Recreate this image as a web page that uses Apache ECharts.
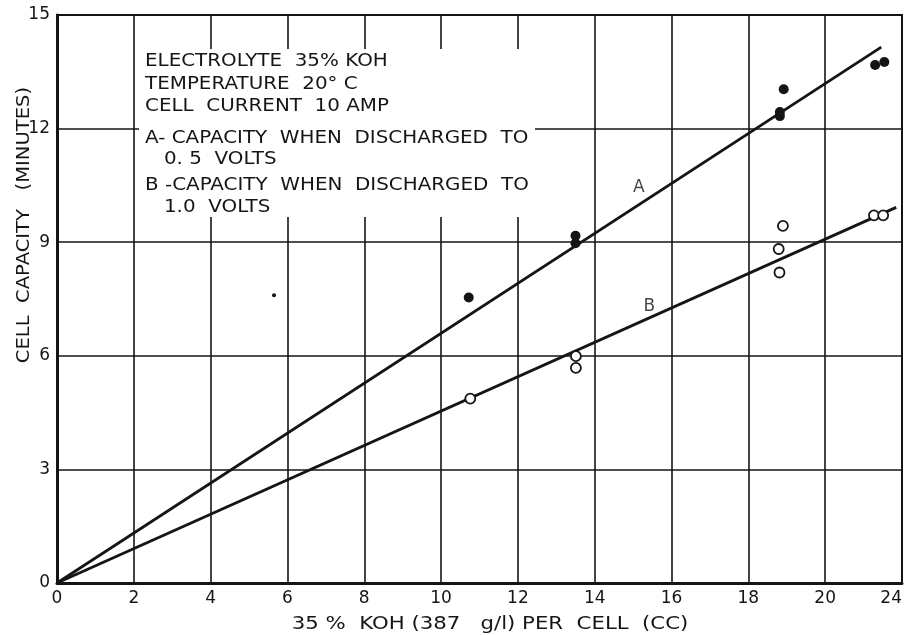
<!DOCTYPE html>
<html>
<head>
<meta charset="utf-8">
<script src="https://cdn.jsdelivr.net/npm/echarts@6/dist/echarts.min.js"></script>
<style>html,body{margin:0;padding:0;background:#fff;}#c{width:908px;height:635px;}</style>
</head>
<body>
<div id="c"></div>
<script>
// x ticks as drawn on the grid (the right edge of the grid is labelled "24")
const xTickValues = [0, 2, 4, 6, 8, 10, 12, 14, 16, 18, 20, 22];
const xTickLabels = ['0', '2', '4', '6', '8', '10', '12', '14', '16', '18', '20', '24'];
const yTickLabels = ['0', '3', '6', '9', '12', '15'];

// A - capacity when discharged to 0.5 volts (filled points)
const pointsA = [[10.72, 7.54], [13.5, 9.17], [13.5, 8.97], [18.92, 13.04], [18.82, 12.44], [18.82, 12.33], [21.3, 13.68], [21.54, 13.76]];
// B - capacity when discharged to 1.0 volts (open points)
const pointsB = [[10.76, 4.87], [13.51, 5.99], [13.51, 5.68], [18.9, 9.43], [18.79, 8.82], [18.81, 8.2], [21.27, 9.71], [21.51, 9.71]];
// stray small dot
const strayPoints = [[5.65, 7.6]];
// fitted lines
const lineA = [[0, 0], [21.46, 14.15]];
const lineB = [[0, 0], [21.85, 9.92]];
// curve labels
const curveLabels = [['A', 15.15, 10.45], ['B', 15.42, 7.29]];

const noteLines = [
  'ELECTROLYTE  35% KOH',
  'TEMPERATURE  20° C',
  'CELL  CURRENT  10 AMP',
  'A- CAPACITY  WHEN  DISCHARGED  TO',
  '   0. 5  VOLTS',
  'B -CAPACITY  WHEN  DISCHARGED  TO',
  '   1.0  VOLTS'
];
const xName = '35 %  KOH (387   g/l) PER  CELL  (CC)';
const yName = 'CELL  CAPACITY   (MINUTES)';

const ink = '#151515';
const font = 'DejaVu Sans';

const chart = echarts.init(document.getElementById('c'), null, {renderer: 'canvas'});

const noteY = [62, 85, 107, 139, 160, 186, 208];
const graphics = [
  {type: 'rect', z: 40, shape: {x: 139, y: 49, width: 396, height: 168}, style: {fill: '#ffffff', stroke: null}}
];
noteLines.forEach((t, i) => {
  graphics.push({type: 'text', z: 45, x: 145, y: noteY[i], scaleX: 1.17,
    style: {text: t, font: '17px "DejaVu Sans"', fill: ink, verticalAlign: 'middle'}});
});
graphics.push({type: 'text', x: 490, y: 625, z: 45, scaleX: 1.25,
  style: {text: xName, font: '17px "DejaVu Sans"', fill: ink, align: 'center', verticalAlign: 'middle'}});
graphics.push({type: 'text', x: 25, y: 225, rotation: Math.PI / 2, z: 45, scaleX: 1.15,
  style: {text: yName, font: '17px "DejaVu Sans"', fill: ink, align: 'center', verticalAlign: 'middle'}});

chart.setOption({
  animation: false,
  backgroundColor: '#fff',
  grid: {left: 57, top: 15, width: 845, height: 568, outerBoundsMode: 'none', containLabel: false,
    show: true, borderColor: ink, borderWidth: 2, backgroundColor: 'transparent'},
  xAxis: {
    type: 'value', min: 0, max: 22, interval: 2,
    axisLine: {show: true, lineStyle: {color: ink, width: 3}},
    axisTick: {show: false},
    axisLabel: {color: ink, fontFamily: font, fontSize: 17, margin: 7, alignMaxLabel: 'right',
      formatter: v => { const i = xTickValues.indexOf(v); return i >= 0 ? xTickLabels[i] : ''; }},
    splitLine: {show: true, lineStyle: {color: ink, width: 1.6}}
  },
  yAxis: {
    type: 'value', min: 0, max: 15, interval: 3,
    axisLine: {show: true, lineStyle: {color: ink, width: 3}},
    axisTick: {show: false},
    axisLabel: {color: ink, fontFamily: font, fontSize: 17, margin: 7,
      formatter: v => yTickLabels[Math.round(v / 3)]},
    splitLine: {show: true, lineStyle: {color: ink, width: 1.6}}
  },
  graphic: graphics,
  series: [
    {type: 'line', data: lineA, symbol: 'none', lineStyle: {color: ink, width: 2.8}, z: 60},
    {type: 'line', data: lineB, symbol: 'none', lineStyle: {color: ink, width: 2.8}, z: 60},
    {type: 'scatter', data: pointsA, symbol: 'circle', symbolSize: 10, itemStyle: {color: ink, opacity: 1}, z: 61},
    {type: 'scatter', data: pointsB, symbol: 'circle', symbolSize: 10, itemStyle: {color: '#fff', borderColor: ink, borderWidth: 1.8, opacity: 1}, z: 61},
    {type: 'scatter', data: strayPoints, symbol: 'circle', symbolSize: 4, itemStyle: {color: ink, opacity: 1}, z: 61},
    {type: 'scatter', data: curveLabels.map(d => ({name: d[0], value: [d[1], d[2]]})), symbolSize: 0, z: 62,
      label: {show: true, position: 'inside', formatter: p => p.name, color: ink, textBorderWidth: 0,
        fontFamily: font, fontSize: 17}}
  ]
});
</script>
</body>
</html>
